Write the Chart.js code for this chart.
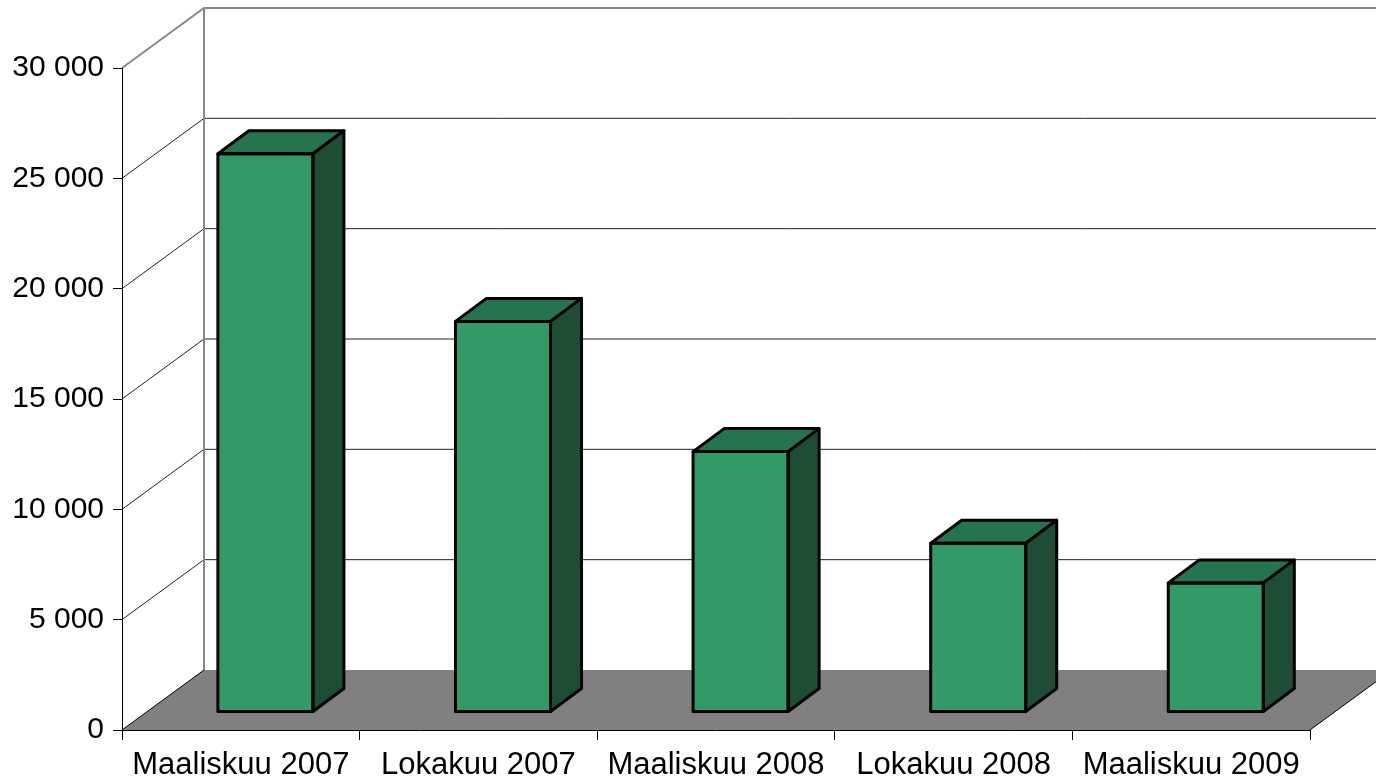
<!DOCTYPE html>
<html>
<head>
<meta charset="utf-8">
<script src="https://cdn.jsdelivr.net/npm/chart.js@4"></script>
<style>
  html, body { margin: 0; padding: 0; background: #fff; }
  #chart-div { width: 1376px; height: 779px; }
</style>
</head>
<body>
<div id="chart-div"><canvas id="bar-chart"></canvas></div>
<script>
// data
const categories = ['Maaliskuu 2007', 'Lokakuu 2007', 'Maaliskuu 2008', 'Lokakuu 2008', 'Maaliskuu 2009'];
const counts = [25300, 17700, 11800, 7650, 5850];
const yTicks = [0, 5000, 10000, 15000, 20000, 25000, 30000];

// 3d look
const WALL_DX = 82, WALL_DY = -60;   // depth of the floor / back wall
const BAR_SHIFT = 0.3;               // bars sit this far into the depth
const BAR_DX = 31, BAR_DY = -23;     // bar depth

function fmt(v) { return String(v).replace(/\B(?=(\d{3})+(?!\d))/g, ' '); }

const walls = {
    id: 'walls',
    beforeDraw(chart) {
        const ctx = chart.ctx, a = chart.chartArea, y = chart.scales.y;
        ctx.save();
        // floor
        ctx.fillStyle = '#808080';
        ctx.beginPath();
        ctx.moveTo(a.left, a.bottom);
        ctx.lineTo(a.right, a.bottom);
        ctx.lineTo(a.right + WALL_DX, a.bottom + WALL_DY);
        ctx.lineTo(a.left + WALL_DX, a.bottom + WALL_DY);
        ctx.closePath();
        ctx.fill();
        ctx.strokeStyle = '#000'; ctx.lineWidth = 1;
        ctx.beginPath();
        ctx.moveTo(a.right, a.bottom); ctx.lineTo(a.right + WALL_DX, a.bottom + WALL_DY);
        ctx.stroke();
        // grid lines on the side and back wall
        yTicks.forEach(v => {
            const py = y.getPixelForValue(v);
            const top = v === yTicks[yTicks.length - 1];
            ctx.strokeStyle = top ? '#888' : (v === 0 ? '#000' : '#222');
            ctx.lineWidth = top ? 2 : 1;
            ctx.beginPath();
            ctx.moveTo(a.left, py);
            ctx.lineTo(a.left + WALL_DX, py + WALL_DY);
            if (v !== 0) ctx.lineTo(a.right + WALL_DX, py + WALL_DY);
            ctx.stroke();
        });
        // back wall corner
        ctx.strokeStyle = '#888'; ctx.lineWidth = 2;
        ctx.beginPath();
        ctx.moveTo(a.left + WALL_DX, a.top + WALL_DY);
        ctx.lineTo(a.left + WALL_DX, a.bottom + WALL_DY);
        ctx.stroke();
        ctx.restore();
    },
    beforeDatasetsDraw(chart) {
        chart.ctx.save();
        chart.ctx.translate(WALL_DX * BAR_SHIFT, WALL_DY * BAR_SHIFT);
    },
    afterDatasetsDraw(chart) {
        const ctx = chart.ctx;
        chart.getDatasetMeta(0).data.forEach(bar => {
            const p = bar.getProps(['x', 'y', 'base', 'width'], true);
            const l = p.x - p.width / 2, r = p.x + p.width / 2;
            ctx.lineWidth = 3; ctx.strokeStyle = '#000'; ctx.lineJoin = 'round';
            // top
            ctx.fillStyle = '#267350';
            ctx.beginPath();
            ctx.moveTo(l, p.y); ctx.lineTo(r, p.y);
            ctx.lineTo(r + BAR_DX, p.y + BAR_DY); ctx.lineTo(l + BAR_DX, p.y + BAR_DY);
            ctx.closePath(); ctx.fill(); ctx.stroke();
            // side
            ctx.fillStyle = '#1e4d35';
            ctx.beginPath();
            ctx.moveTo(r, p.y); ctx.lineTo(r + BAR_DX, p.y + BAR_DY);
            ctx.lineTo(r + BAR_DX, p.base + BAR_DY); ctx.lineTo(r, p.base);
            ctx.closePath(); ctx.fill(); ctx.stroke();
            // front outline
            ctx.strokeRect(l, p.y, p.width, p.base - p.y);
        });
        ctx.restore();
    }
};

const ctx = document.getElementById('bar-chart').getContext('2d');
new Chart(ctx, {
    type: 'bar',
    data: { labels: categories, datasets: [
        { data: counts, backgroundColor: '#339966', borderWidth: 0,
          barPercentage: 0.4, categoryPercentage: 1 } ]},
    options: {
        responsive: true, maintainAspectRatio: false, animation: false,
        layout: { padding: { top: 68, right: 66, left: 0, bottom: 0 } },
        plugins: { legend: { display: false }, tooltip: { enabled: false } },
        scales: {
            x: {
                grid: { offset: true, drawOnChartArea: false, tickLength: 10, color: '#000' },
                border: { color: '#000', width: 1 },
                ticks: { color: '#000', padding: 7, maxRotation: 0, font: { family: '"Liberation Sans", Arial', size: 31 } },
                afterFit(s) { s.height = 49; }
            },
            y: {
                min: 0, max: 30000,
                afterBuildTicks(s) { s.ticks = yTicks.map(v => ({ value: v })); },
                grid: { drawOnChartArea: false, tickLength: 9, color: '#000' },
                border: { color: '#000', width: 1 },
                ticks: { color: '#000', padding: 9, callback: v => fmt(v), font: { family: '"Liberation Sans", Arial', size: 30 } },
                afterFit(s) { s.width = 122; }
            }
        }
    },
    plugins: [walls]
});
</script>
</body>
</html>
